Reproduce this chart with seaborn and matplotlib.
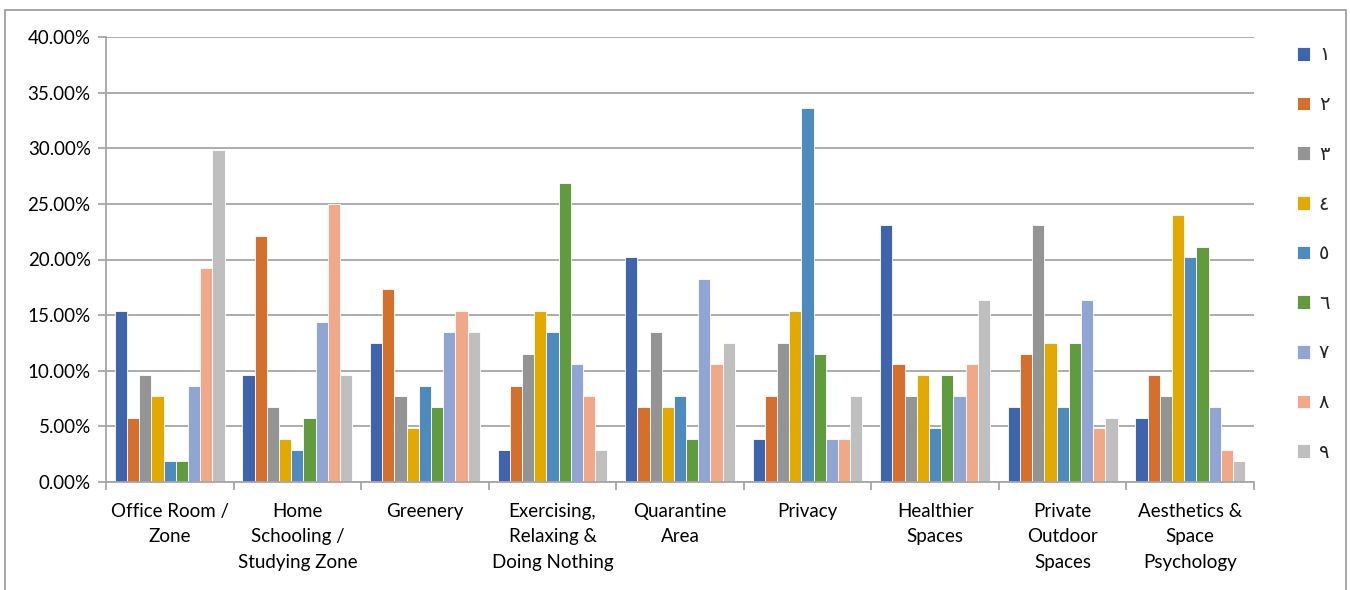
import matplotlib
matplotlib.use("Agg")
import matplotlib.pyplot as plt
import numpy as np
import pandas as pd
import seaborn as sns
from matplotlib.patches import Rectangle
from matplotlib.ticker import FixedLocator, PercentFormatter


CATEGORIES = [
    "Office Room /\nZone",
    "Home\nSchooling /\nStudying Zone",
    "Greenery",
    "Exercising,\nRelaxing &\nDoing Nothing",
    "Quarantine\nArea",
    "Privacy",
    "Healthier\nSpaces",
    "Private\nOutdoor\nSpaces",
    "Aesthetics &\nSpace\nPsychology",
]

SERIES = ["١", "٢", "٣", "٤", "٥", "٦", "٧", "٨", "٩"]

# one list per series (legend entry), values in % per category
S1 = [15.38, 9.62, 12.50, 2.88, 20.19, 3.85, 23.08, 6.73, 5.77]
S2 = [5.77, 22.12, 17.31, 8.65, 6.73, 7.69, 10.58, 11.54, 9.62]
S3 = [9.62, 6.73, 7.69, 11.54, 13.46, 12.50, 7.69, 23.08, 7.69]
S4 = [7.69, 3.85, 4.81, 15.38, 6.73, 15.38, 9.62, 12.50, 24.04]
S5 = [1.92, 2.88, 8.65, 13.46, 7.69, 33.65, 4.81, 6.73, 20.19]
S6 = [1.92, 5.77, 6.73, 26.92, 3.85, 11.54, 9.62, 12.50, 21.15]
S7 = [8.65, 14.42, 13.46, 10.58, 18.27, 3.85, 7.69, 16.35, 6.73]
S8 = [19.23, 25.00, 15.38, 7.69, 10.58, 3.85, 10.58, 4.81, 2.88]
S9 = [29.81, 9.62, 13.46, 2.88, 12.50, 7.69, 16.35, 5.77, 1.92]

COLORS = ["#3E64AD", "#D46F2D", "#949494", "#E2AA00", "#4F8ABE",
          "#629A3E", "#91A5D5", "#F0A889", "#BFBFBF"]

values = [S1, S2, S3, S4, S5, S6, S7, S8, S9]
rows = []
for name, vals in zip(SERIES, values):
    for cat, v in zip(CATEGORIES, vals):
        rows.append({"category": cat, "series": name, "value": v})
df = pd.DataFrame(rows)

sns.set_theme(style="white")
plt.rcParams["font.family"] = ["Lato", "DejaVu Sans"]

fig = plt.figure(figsize=(13.5, 5.9), dpi=100)
ax = fig.add_axes([106 / 1350, 1 - 482 / 590, (1254 - 106) / 1350, (482 - 37) / 590])

sns.barplot(
    data=df, x="category", y="value", hue="series",
    order=CATEGORIES, hue_order=SERIES, palette=COLORS,
    width=0.86, gap=0, edgecolor="white", linewidth=0.6,
    saturation=1, ax=ax, legend=True,
)

grid_c = "#A6A6A6"
ax.set_ylim(0, 40)
ax.set_xlim(-0.5, len(CATEGORIES) - 0.5)
ax.set_yticks(np.arange(0, 41, 5))
ax.yaxis.set_major_formatter(PercentFormatter(decimals=2))
ax.yaxis.grid(True, color=grid_c, linewidth=1.3)
ax.set_axisbelow(True)
ax.set_xlabel("")
ax.set_ylabel("")

for side in ["top", "right"]:
    ax.spines[side].set_visible(False)
for side in ["left", "bottom"]:
    ax.spines[side].set_color(grid_c)
    ax.spines[side].set_linewidth(1.3)

ax.tick_params(axis="y", length=6, width=1.3, color=grid_c, labelsize=13.5, pad=5, direction="out", left=True)
ax.tick_params(axis="x", which="major", length=0, labelsize=13.5, pad=15)
ax.xaxis.set_minor_locator(FixedLocator(np.arange(-0.5, len(CATEGORIES), 1)))
ax.tick_params(axis="x", which="minor", length=6, width=1.3, color=grid_c, direction="out", bottom=True)
for lbl in ax.get_xticklabels():
    lbl.set_linespacing(1.6)
for lbl in ax.get_yticklabels() + ax.get_xticklabels():
    lbl.set_color("black")

handles, labels = ax.get_legend_handles_labels()
ax.get_legend().remove()
fig.legend(
    handles, labels, loc="upper left", bbox_to_anchor=(1279 / 1350, 1 - 29 / 590),
    frameon=False, fontsize=14, handlelength=0.7, handleheight=0.7,
    handletextpad=0.45, labelspacing=1.68,
)

# outer chart frame like the spreadsheet chart border
fig.patches.append(Rectangle((5 / 1350, -0.05), 1341 / 1350, 1 - 10 / 590 + 0.05,
                             transform=fig.transFigure, fill=False,
                             edgecolor="#A0A0A0", linewidth=1.3))

fig.savefig("out.png", dpi=100)
